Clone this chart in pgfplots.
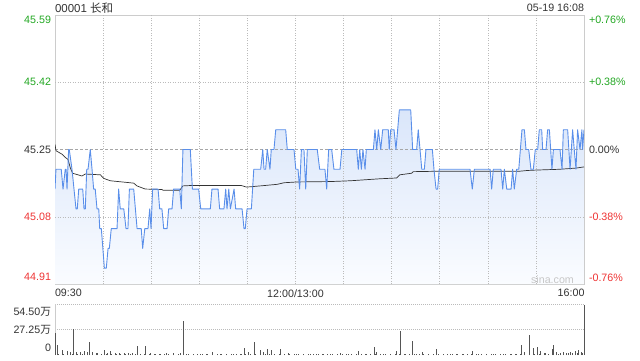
\documentclass[border=0pt]{standalone}
\usepackage{pgfplots}
\usepackage{pgfplotstable}
\pgfplotsset{compat=1.18}
\usepackage{fontspec}
\setmainfont{Liberation Sans}
\newfontfamily\cjk{Noto Sans CJK SC}
\definecolor{upg}{HTML}{22A722}
\definecolor{dnr}{HTML}{EE3333}
\definecolor{pline}{HTML}{5A8FEA}
\definecolor{gridc}{HTML}{BBBBBB}
\definecolor{framec}{HTML}{CCCCCC}
\definecolor{txt}{HTML}{333333}
\definecolor{volc}{HTML}{555555}
\definecolor{ftop}{HTML}{DAE6FA}
\definecolor{fbot}{HTML}{FAFCFF}

\pgfplotstableread{
m p
0 45.15
0.6 45.20
3.9 45.20
5 45.15
6.4 45.20
6.9 45.20
7.5 45.15
8.5 45.25
8.9 45.25
10.6 45.20
13.1 45.10
13.9 45.10
14.8 45.15
17.3 45.15
18.1 45.10
18.9 45.10
19.8 45.20
20.6 45.20
22 45.25
23.1 45.20
24.1 45.15
25.1 45.15
26.2 45.10
27.3 45.10
27.9 45.05
28.9 45.05
30.8 44.95
32 44.95
33.1 45.00
33.9 45.00
35.1 45.05
38.7 45.05
39.7 45.15
40.7 45.10
42.9 45.10
44.3 45.05
45.5 45.05
46.4 45.15
49.1 45.15
51.2 45.05
53.8 45.05
54.7 45.00
56 45.05
58 45.05
59.1 45.10
59.9 45.05
60.9 45.15
64.3 45.15
65.3 45.10
66.7 45.10
67.8 45.05
69.9 45.05
70.9 45.10
73 45.10
74 45.15
77.8 45.15
78.8 45.10
79.8 45.25
84.4 45.25
85.7 45.15
89.6 45.15
90.9 45.10
96.9 45.10
97.9 45.15
101.7 45.15
102.7 45.10
105.4 45.10
106.5 45.15
107.3 45.10
108.4 45.15
109.4 45.10
111.7 45.15
112.7 45.10
116.7 45.10
117.9 45.05
118.7 45.05
119.8 45.10
122.5 45.10
124 45.20
128.3 45.20
129.6 45.25
130.4 45.20
131.4 45.20
132.4 45.25
134.1 45.20
134.9 45.25
136.6 45.25
137.7 45.30
143.9 45.30
144.9 45.25
149.1 45.25
150.2 45.20
151.6 45.20
152.6 45.15
153.7 45.25
155.3 45.25
156.4 45.15
157.4 45.25
163.6 45.25
165.1 45.20
168.4 45.20
169.5 45.15
170.7 45.25
172.6 45.25
174 45.20
177.8 45.20
178.9 45.25
188.2 45.25
189.2 45.20
190.1 45.25
191.1 45.20
192.1 45.25
193.4 45.20
194.2 45.25
198.6 45.25
199.6 45.30
200.7 45.25
201.7 45.30
203.2 45.25
204.4 45.30
207.9 45.30
208.5 45.25
209.4 45.30
211.5 45.30
212.7 45.25
214.8 45.35
221.9 45.35
223.1 45.25
225.6 45.25
226.6 45.30
228.8 45.20
230.4 45.20
231.4 45.25
235.4 45.25
236.4 45.20
237.7 45.15
238.7 45.15
239.7 45.20
258.9 45.20
260.3 45.15
261.6 45.20
271.4 45.20
272.4 45.15
273.4 45.20
278.2 45.20
279.3 45.15
280.3 45.20
281.8 45.15
284.5 45.15
285.5 45.20
286.5 45.15
288 45.20
289.3 45.20
290.3 45.25
291.3 45.30
292.8 45.30
293.8 45.25
295.5 45.25
296.9 45.20
298.4 45.20
299.6 45.25
301.1 45.25
302.1 45.30
303.6 45.30
304.2 45.25
306.3 45.25
307.3 45.30
308.4 45.30
310 45.20
310.9 45.25
315 45.25
316.3 45.20
317.1 45.30
319.8 45.30
321.3 45.20
322.9 45.30
323.9 45.25
325 45.20
326 45.30
327.5 45.25
328.7 45.30
329.1 45.25
330 45.30
}\price

\pgfplotstableread{
m a
0 45.263
0.6 45.247
4.4 45.238
6.4 45.230
8.1 45.225
9.6 45.203
11 45.190
16.8 45.183
18.9 45.188
28.3 45.186
30.4 45.177
34.5 45.171
49.1 45.165
51.1 45.158
56.3 45.150
66.7 45.149
67.4 45.147
77.8 45.147
79.8 45.158
85 45.159
116.2 45.159
119.4 45.155
122.5 45.156
130.8 45.159
138.7 45.162
142.9 45.166
151.2 45.168
172 45.169
184.4 45.171
199 45.175
202.7 45.176
213.1 45.178
215.1 45.186
222.4 45.190
223.4 45.194
238 45.195
265.1 45.195
289.6 45.195
294.8 45.197
300 45.198
314.6 45.200
325 45.203
330 45.206
}\avg

\pgfplotstableread{
m v
0 23.2
1.5 10.7
4.6 5.3
7.9 4
9.6 3
11.4 27.5
13.1 3
15.6 3
18.1 4
20.2 3
21.4 14.2
23.5 3
26.4 2
30.6 5
32.6 2.5
34.7 4
37.4 2
39.9 2.5
43 2.5
45.7 2.5
48.5 2
51.3 9.6
56.6 9.6
59.3 2
62.4 1.5
65.5 1.5
69.7 2
73.8 2
78 2
80 36.7
82.2 1.5
86.3 1
90.5 1
94.6 1
98.1 3
102.9 1.5
107.1 1.5
111.2 1.5
115.4 1.5
118.1 7.5
120.6 3
124.3 14.2
127.9 5
130 3
132.7 6.4
135.2 5
140.4 6.4
145.5 2
150.8 1.5
154.9 1.5
159.1 1.5
163.3 1.5
167.4 1.5
171.6 1.5
177.8 2.5
183 1.5
189.2 4
193.4 1.5
199.2 8.9
200.7 3
204.8 1.5
209 1.5
212.7 4
215.7 25.7
218.3 1.5
222.9 15.3
225.6 1.5
229.2 3
232.9 1.5
237.9 6.4
242.2 1.5
246.4 1.5
250.6 1.5
254.7 1.5
260.6 4
264.1 1.5
269.3 1.5
273.4 1.5
279.7 1.5
284.9 1.5
288 1.5
290.9 10.7
292.6 3
295.9 21.4
298.4 7.8
300.9 8.9
302.6 4
305.7 2
310.2 6.4
310.9 10.7
313 3
315 2
317.1 3
319.2 2
321.3 3.5
324.4 4
326.3 5
328.4 3
330 53.5
}\vol

\pgfplotstableread{
m v
2 1.4
5 1.1
8 1.8
11 1.2
14 1.6
17 1.0
20 1.5
23 1.2
26 1.7
29 1.1
32 1.4
35 0.9
38 1.6
41 1.1
44 1.3
47 0.9
50 1.2
53 1.0
56 1.4
59 0.8
62 1.1
65 0.9
68 1.2
71 0.8
74 1.0
77 0.9
80 1.1
83 0.8
86 1.0
89 0.7
92 0.9
95 0.8
98 1.0
101 0.7
104 0.9
107 0.8
110 1.0
113 0.8
116 1.1
119 0.9
122 1.2
125 1.0
128 1.3
131 0.9
134 1.1
137 1.0
140 1.2
143 0.9
146 1.1
149 0.8
152 1.0
155 0.8
158 0.9
161 0.7
164 0.9
167 0.8
170 1.0
173 0.8
176 0.9
179 1.0
182 0.8
185 0.9
188 1.1
191 0.8
194 1.0
197 0.9
200 1.1
203 0.9
206 1.0
209 0.8
212 1.1
215 0.9
218 1.0
221 0.8
224 0.9
227 1.1
230 0.8
233 1.0
236 0.9
239 1.0
242 0.8
245 0.9
248 0.8
251 1.0
254 0.7
257 0.9
260 0.8
263 1.0
266 0.8
269 0.9
272 0.7
275 0.9
278 0.8
281 1.0
284 0.8
287 1.1
290 1.3
293 1.5
296 1.2
299 1.6
302 1.4
305 1.7
308 1.5
311 1.8
314 1.6
317 2.0
320 1.7
323 2.2
326 1.9
329 2.3
}\volb

\begin{document}
\begin{tikzpicture}[x=1bp,y=1bp,every node/.style={inner sep=0pt,outer sep=0pt},
  font=\fontsize{10.7bp}{12bp}\selectfont]
\useasboundingbox (0,0) rectangle (640,360);
\begin{axis}[
  at={(55bp,76bp)}, anchor=south west,
  width=529bp, height=269bp, scale only axis,
  xmin=0, xmax=330, ymin=44.91, ymax=45.59,
  axis line style={framec},
  xtick=\empty, ytick=\empty,
  clip=true,
]
\addplot[draw=none, top color=ftop, bottom color=fbot] table[x=m,y=p]{\price} \closedcycle;
\pgfplotsinvokeforeach{30,60,90,120,150,180,210,240,270,300}{
  \draw[gridc, line width=0.5bp, dash pattern=on 1bp off 1.5bp] (axis cs:#1,44.91) -- (axis cs:#1,45.59);
}
\draw[gridc, line width=0.5bp, dash pattern=on 1bp off 1.5bp] (axis cs:0,45.42) -- (axis cs:330,45.42);
\draw[gridc, line width=0.5bp, dash pattern=on 1bp off 1.5bp] (axis cs:0,45.08) -- (axis cs:330,45.08);
\draw[black!35, line width=0.6bp, dash pattern=on 3bp off 2bp] (axis cs:0,45.25) -- (axis cs:330,45.25);
\addplot[draw=txt, line width=0.7bp] table[x=m,y=a]{\avg};
\addplot[draw=pline, line width=0.9bp, line join=round] table[x=m,y=p]{\price};
\end{axis}

\begin{axis}[
  at={(55bp,5bp)}, anchor=south west,
  width=529bp, height=51bp, scale only axis,
  xmin=0, xmax=330, ymin=0, ymax=54.5,
  axis line style={draw=none},
  xtick=\empty, ytick=\empty,
  clip=false,
]
\draw[gridc, line width=0.6bp, dash pattern=on 1bp off 1bp] (axis cs:0,54.5) -- (axis cs:330,54.5);
\draw[gridc, line width=0.6bp, dash pattern=on 1bp off 1bp] (axis cs:0,27.25) -- (axis cs:330,27.25);
\draw[framec] (axis cs:0,0) -- (axis cs:0,54.5);
\addplot[ycomb, draw=volc, line width=0.7bp, no marks] table[x=m,y=v]{\volb};
\addplot[ycomb, draw=volc, line width=0.7bp, no marks] table[x=m,y=v]{\vol};
\end{axis}

% title and date
\node[anchor=west, text=txt, font=\fontsize{11.5bp}{13bp}\selectfont] at (55,352) {00001 {\cjk 长和}};
\node[anchor=east, text=txt] at (584,352) {05-19 16:08};
% left price labels
\node[anchor=east, text=upg] at (51,340) {45.59};
\node[anchor=east, text=upg] at (51,277.7) {45.42};
\node[anchor=east, text=txt] at (51,210.5) {45.25};
\node[anchor=east, text=dnr] at (51,143.2) {45.08};
\node[anchor=east, text=dnr] at (51,83) {44.91};
% right percent labels
\node[anchor=west, text=upg] at (589,340) {+0.76\%};
\node[anchor=west, text=upg] at (589,277.7) {+0.38\%};
\node[anchor=west, text=txt] at (589,210.5) {0.00\%};
\node[anchor=west, text=dnr] at (589,143.2) {-0.38\%};
\node[anchor=west, text=dnr] at (589,82) {-0.76\%};
% time labels
\node[anchor=west, text=txt] at (55,66.7) {09:30};
\node[text=txt] at (295.5,66.7) {12:00/13:00};
\node[anchor=east, text=txt] at (584.5,66.7) {16:00};
% watermark
\node[text=black!22] at (552.5,80.7) {sina.com};
% volume labels
\node[anchor=east, text=txt] at (51,48.3) {54.50{\cjk 万}};
\node[anchor=east, text=txt] at (51,30) {27.25{\cjk 万}};
\node[anchor=east, text=txt] at (51,11.7) {0};
\end{tikzpicture}
\end{document}
